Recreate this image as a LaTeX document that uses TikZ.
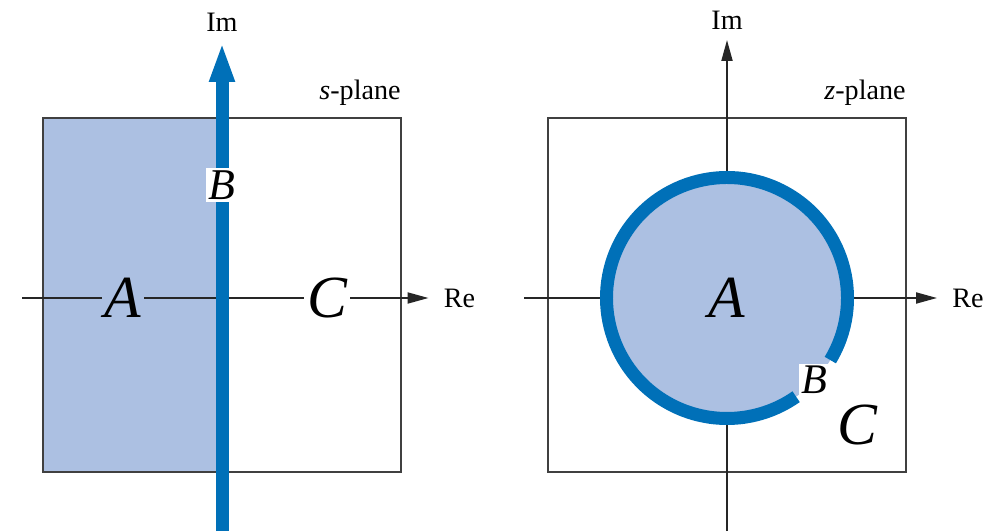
\documentclass[tikz,border=0pt]{standalone}
\usepackage{fontspec}
\setmainfont{Liberation Serif}
\usetikzlibrary{arrows.meta}
\definecolor{regionblue}{RGB}{172,192,226}
\definecolor{ringblue}{RGB}{0,112,184}

\begin{document}
\begin{tikzpicture}[
        axis/.style={line width=1.1pt, black!85, -{Triangle[length=0.42cm, width=0.22cm]}},
        frame/.style={line width=0.8pt, black!75},
        lbl/.style={font=\fontsize{16}{16}\selectfont, inner xsep=0.3cm, inner ysep=0.2cm},
        big/.style={font=\fontsize{34}{34}\selectfont\itshape, inner sep=0.06cm},
        mid/.style={font=\fontsize{25}{25}\selectfont\itshape, inner sep=0.05cm, fill=white}]
    \useasboundingbox (0,0) rectangle (19.78,10.62);
    % s-plane
    \fill[regionblue] (0.86,1.18) rectangle (4.44,8.26);
    \draw[frame] (0.86,1.18) rectangle (8.02,8.26);
    \coordinate (sre0) at (0.44,4.66);
    \coordinate (sim0) at (4.44,0);
    \node[lbl, anchor=west] (sre) at (8.57,4.66) {Re};
    \node[lbl, anchor=south] (sim) at (4.44,9.78) {Im};
    \node[lbl, anchor=base] (spl) at (7.20,8.62) {\textit{s}-plane};
    \draw[axis] (sre0) -- (sre);
    \node[big, fill=regionblue] (sa) at (2.46,4.66) {A};
    \node[big, fill=white] (sc) at (6.54,4.66) {C};
    \draw[ringblue, line width=0.26cm, -{Triangle[length=0.8cm, width=0.46cm]}] (sim0) -- (sim);
    \node[mid] (sb) at (4.44,6.92) {B};
    % z-plane
    \draw[frame] (10.96,1.18) rectangle (18.12,8.26);
    \coordinate (zre0) at (10.48,4.66);
    \coordinate (zim0) at (14.54,0);
    \coordinate (zc) at (14.54,4.66);
    \node[lbl, anchor=west] (zre) at (18.74,4.66) {Re};
    \node[lbl, anchor=south] (zim) at (14.54,9.82) {Im};
    \node[lbl, anchor=base] (zpl) at (17.30,8.62) {\textit{z}-plane};
    \draw[axis] (zre0) -- (zre);
    \draw[axis] (zim0) -- (zim);
    \fill[regionblue] (zc) circle[radius=2.41];
    \draw[ringblue, line width=0.26cm] (zc) ++(-31:2.41) arc[start angle=-31, end angle=305, radius=2.41];
    \node[big] (za) at (zc) {A};
    \node[mid, font=\fontsize{24}{24}\selectfont\itshape] (zb) at (16.28,3.02) {B};
    \node[big] (zcc) at (17.14,2.12) {C};
\end{tikzpicture}
\end{document}
